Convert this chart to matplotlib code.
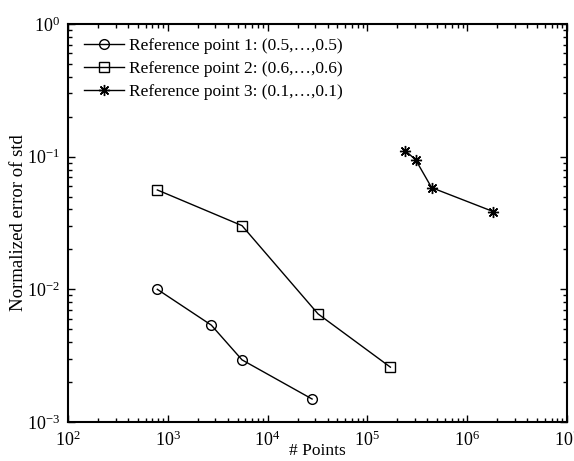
import matplotlib
matplotlib.use("Agg")
import matplotlib.pyplot as plt
from matplotlib.ticker import LogLocator, NullFormatter

plt.rcParams['font.family'] = ['Liberation Serif', 'DejaVu Serif']
plt.rcParams['mathtext.fontset'] = 'stix'

# reference point 1: (0.5,...,0.5)
pts1 = [785, 2730, 5540, 27900]
err1 = [0.0100, 0.00537, 0.00294, 0.00149]
# reference point 2: (0.6,...,0.6)
pts2 = [785, 5540, 32000, 170000]
err2 = [0.0561, 0.0302, 0.00653, 0.00259]
# reference point 3: (0.1,...,0.1)
pts3 = [240000, 305000, 440000, 1830000]
err3 = [0.111, 0.0944, 0.0584, 0.0385]

labels = ["Reference point 1: (0.5,\u2026,0.5)",
          "Reference point 2: (0.6,\u2026,0.6)",
          "Reference point 3: (0.1,\u2026,0.1)"]

fig = plt.figure(figsize=(5.74, 4.61), dpi=100)
ax = fig.add_axes([0.1185, 0.0846, 0.8693, 0.8634])

ax.plot(pts1, err1, 'k-', marker='o', mfc='none', ms=7, lw=1, label=labels[0])
ax.plot(pts2, err2, 'k-', marker='s', mfc='none', ms=7, lw=1, label=labels[1])
ax.plot(pts3, err3, 'k-', marker=(8, 2, 0), ms=8, mew=1, lw=1, label=labels[2])

ax.set_xscale('log')
ax.set_yscale('log')
ax.set_xlim(1e2, 1e7)
ax.set_ylim(1e-3, 1e0)

ax.xaxis.set_minor_locator(LogLocator(base=10, subs=range(2, 10)))
ax.yaxis.set_minor_locator(LogLocator(base=10, subs=range(2, 10)))
ax.xaxis.set_minor_formatter(NullFormatter())
ax.yaxis.set_minor_formatter(NullFormatter())
ax.tick_params(which='both', direction='in', top=True, right=True, width=1)
ax.tick_params(which='major', length=5, labelsize=13, pad=6)
ax.tick_params(which='minor', length=3)
for s in ax.spines.values():
    s.set_linewidth(1.5)

ax.set_xlabel("# Points", fontsize=12.5, labelpad=-5)
ax.set_ylabel("Normalized error of std", fontsize=13.5, labelpad=0)

ax.legend(loc='upper left', bbox_to_anchor=(0.008, 0.995), frameon=False,
          fontsize=12.5, handlelength=2.3, handletextpad=0.3,
          labelspacing=0.38, borderaxespad=0.3)

plt.savefig("out.png", dpi=100)
